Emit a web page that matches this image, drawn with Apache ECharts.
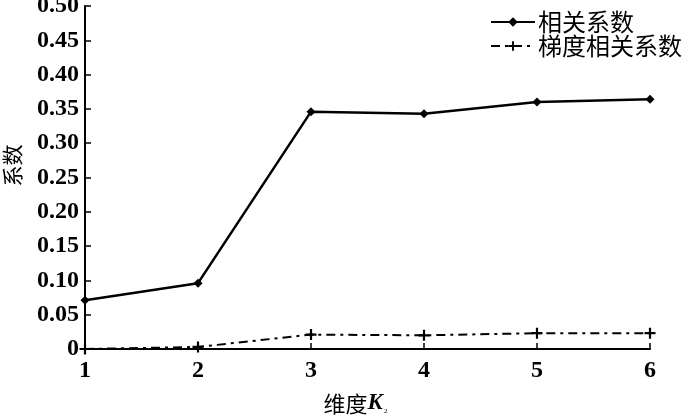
<!DOCTYPE html>
<html>
<head>
<meta charset="utf-8">
<script src="https://cdn.jsdelivr.net/npm/echarts@6/dist/echarts.min.js"></script>
<style>html,body{margin:0;padding:0;background:#fff;}#c{width:700px;height:420px;}</style>
</head>
<body>
<div id="c"></div>
<script>
var categories = ['1', '2', '3', '4', '5', '6'];
var corrValues = [0.071, 0.096, 0.346, 0.343, 0.360, 0.364];
var gradCorrValues = [0.000, 0.003, 0.021, 0.020, 0.023, 0.023];
var seriesNames = ['相关系数', '梯度相关系数'];
var yAxisName = '系数';
var yTicks = { min: 0, max: 0.5, interval: 0.05 };

var serif = '"Liberation Serif", "Times New Roman", serif';
var cjk = '"Noto Sans CJK SC", sans-serif';
var plusPath = 'path://M4,0h2v4h4v2h-4v4h-2v-4h-4v-2h4z';

var chart = echarts.init(document.getElementById('c'), null, { renderer: 'canvas' });
chart.setOption({
  animation: false,
  backgroundColor: '#fff',
  grid: { left: 85, right: 50, top: 6, bottom: 71, containLabel: false, outerBoundsMode: 'none' },
  legend: {
    orient: 'vertical',
    left: 485,
    top: 5,
    itemWidth: 44,
    itemHeight: 12,
    itemGap: 0,
    textStyle: { fontFamily: cjk, fontSize: 24, color: '#000', padding: [0, 0, 0, -2] },
    data: seriesNames
  },
  xAxis: {
    type: 'category',
    data: categories,
    boundaryGap: false,
    name: '维度{k|K}{s|2}',
    nameLocation: 'middle',
    nameGap: 43,
    nameTextStyle: {
      fontFamily: cjk, fontSize: 22, color: '#000', padding: [0, 24, 0, 0],
      rich: {
        k: { fontFamily: serif, fontStyle: 'italic', fontWeight: 'bold', fontSize: 23, color: '#000' },
        s: { fontFamily: serif, fontSize: 7, color: '#000', verticalAlign: 'bottom', padding: [12, 0, 0, 1] }
      }
    },
    axisLine: { lineStyle: { color: '#000', width: 2 } },
    axisTick: { inside: true, length: 6, lineStyle: { color: '#000', width: 1.5 }, alignWithLabel: true },
    axisLabel: { fontFamily: serif, fontSize: 24, fontWeight: 'bold', color: '#000', margin: 10 },
    splitLine: { show: false }
  },
  yAxis: {
    type: 'value',
    min: yTicks.min,
    max: yTicks.max,
    interval: yTicks.interval,
    name: yAxisName,
    nameLocation: 'middle',
    nameGap: 62,
    nameTextStyle: { fontFamily: cjk, fontSize: 21, color: '#000', padding: [0, 0, 0, 24] },
    axisLine: { show: true, lineStyle: { color: '#000', width: 2 } },
    axisTick: { show: true, inside: true, length: 6, lineStyle: { color: '#000', width: 1.5 } },
    axisLabel: {
      fontFamily: serif, fontSize: 24, fontWeight: 'bold', color: '#000', margin: 6,
      formatter: function (v) { return v === 0 ? '0' : v.toFixed(2); }
    },
    splitLine: { show: false }
  },
  series: [
    {
      name: seriesNames[0],
      type: 'line',
      data: corrValues,
      symbol: 'diamond',
      symbolSize: 9,
      showSymbol: true,
      lineStyle: { color: '#000', width: 2.5 },
      itemStyle: { color: '#000' }
    },
    {
      name: seriesNames[1],
      type: 'line',
      data: gradCorrValues,
      symbol: plusPath,
      symbolSize: 11,
      lineStyle: { color: '#000', width: 2, type: [9, 5, 3, 5] },
      itemStyle: { color: '#000' }
    }
  ]
});
</script>
</body>
</html>
